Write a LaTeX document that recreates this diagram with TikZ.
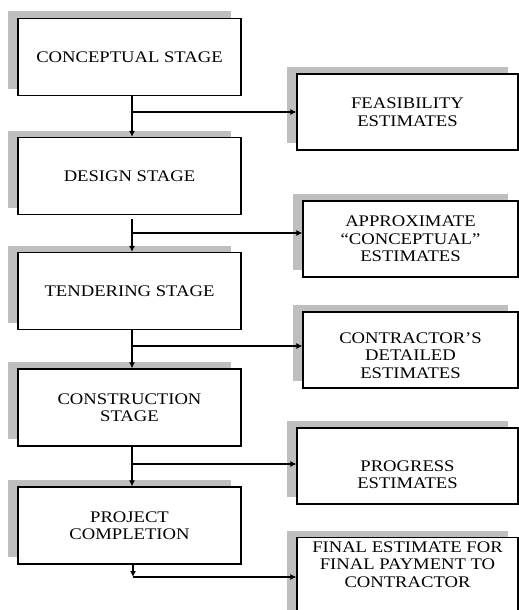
\documentclass[tikz,border=0pt]{standalone}
\usepackage{fontspec}
\setmainfont{Liberation Serif}[FakeStretch=1.15]
\usetikzlibrary{arrows.meta,shadows,calc}

\tikzset{
  box/.style={draw, fill=white, line width=1.2pt, align=center, inner sep=4pt,
    font=\fontsize{16.2}{17.5}\selectfont,
    general shadow={fill=black!25, shadow xshift=-10pt, shadow yshift=7pt}},
  stagebox/.style={box, minimum width=223pt, minimum height=77pt},
  estbox/.style={box, minimum height=76pt},
  link/.style={->, line width=1.1pt}
}

\begin{document}
\begin{tikzpicture}[x=1pt, y=-1pt, >={Latex[length=6pt,width=6pt]}]
	\useasboundingbox (0,0) rectangle (519,610);
	\clip (0,0) rectangle (519,610);
	% stages
	\node[stagebox] (concept) at (129.5,57) {CONCEPTUAL STAGE};
	\node[stagebox] (design) at (129.5,176) {DESIGN STAGE};
	\node[stagebox] (tender) at (129.5,291) {TENDERING STAGE};
	\node[stagebox] (construct) at (129.5,407.5) {CONSTRUCTION\\STAGE};
	\node[stagebox] (complete) at (129.5,525.5) {PROJECT\\COMPLETION};
	% estimates
	\node[estbox, minimum width=221pt] (feasible) at (407.5,112) {FEASIBILITY\\ESTIMATES};
	\node[estbox, minimum width=215pt] (approx) at (410.5,239) {APPROXIMATE\\``CONCEPTUAL''\\ESTIMATES};
	\node[estbox, minimum width=215pt, text height=57pt] (detailed) at (410.5,350) {CONTRACTOR'S\\DETAILED\\ESTIMATES};
	\node[estbox, minimum width=221pt, text height=46pt] (progress) at (407.5,466) {PROGRESS\\ESTIMATES};
	\node[box, minimum width=221pt, anchor=north, text depth=62pt] (final) at (407.5,537) {FINAL ESTIMATE FOR\\FINAL PAYMENT TO\\CONTRACTOR};
	% junctions
	\coordinate (j1) at (132,112);
	\coordinate (j2) at (132,233);
	\coordinate (j3) at (132,346);
	\coordinate (j4) at (132,464);
	\coordinate (j5) at (133,577);
	\draw[link] (concept.south -| j1) -- (design.north -| j1);
	\draw[link] (j1) -- (j1 -| feasible.west);
	\draw[link] ($(design.south -| j2)+(0,4)$) -- (tender.north -| j2);
	\draw[link] (j2) -- (j2 -| approx.west);
	\draw[link] (tender.south -| j3) -- (construct.north -| j3);
	\draw[link] (j3) -- (j3 -| detailed.west);
	\draw[link] (construct.south -| j4) -- (complete.north -| j4);
	\draw[link] (j4) -- (j4 -| progress.west);
	\draw[link] (complete.south -| j5) -- (j5);
	\draw[link] (j5) -- (j5 -| final.west);
\end{tikzpicture}
\end{document}
